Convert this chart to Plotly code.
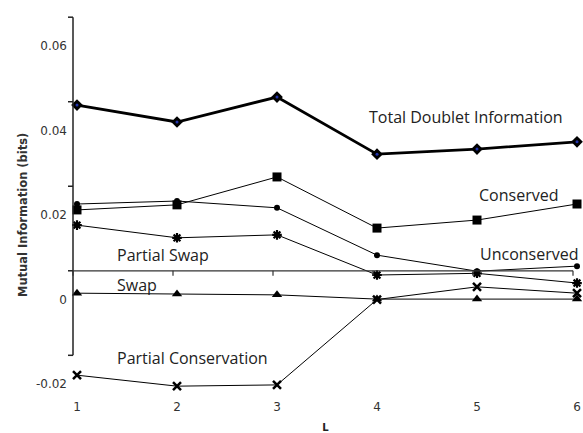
import plotly.graph_objects as go

# Window length L on the x axis
L_values = [1, 2, 3, 4, 5, 6]

# Mutual information (bits) per component
total_doublet = [0.0460, 0.0420, 0.0479, 0.0344, 0.0356, 0.0373]
conserved = [0.0212, 0.0224, 0.0290, 0.0169, 0.0188, 0.0226]
unconserved = [0.0226, 0.0233, 0.0217, 0.0105, 0.0067, 0.0079]
partial_swap = [0.0176, 0.0146, 0.0153, 0.0058, 0.0062, 0.0039]
swap = [0.0015, 0.0013, 0.0011, 0.0001, 0.0001, 0.0001]
partial_conservation = [-0.0179, -0.0205, -0.0202, 0.0000, 0.0030, 0.0015]

# y tick labels
y_tick_vals = [0.06, 0.04, 0.02, 0.0, -0.02]
y_tick_text = ["0.06", "0.04", "0.02", "0", "-0.02"]
# the drawn axis frame sits a little above the labelled values
axis_offset = 0.0068
axis_x = 0.96

FONT = "Open Sans"
TICK_FONT = "DejaVu Sans"

fig = go.Figure()

series = [
    ("Total Doublet Information", total_doublet,
     dict(symbol="diamond", size=9, color="black"), 2.8),
    ("Conserved", conserved,
     dict(symbol="square", size=9, color="black"), 1),
    ("Unconserved", unconserved,
     dict(symbol="circle", size=6, color="black"), 1),
    ("Partial Swap", partial_swap,
     dict(symbol="asterisk-open", size=8, color="black", line=dict(color="black", width=2.2)), 1),
    ("Swap", swap,
     dict(symbol="triangle-up", size=9, color="black"), 1),
    ("Partial Conservation", partial_conservation,
     dict(symbol="x-thin-open", size=8, color="black", line=dict(color="black", width=2.5)), 1),
]

for name, vals, marker, lw in series:
    fig.add_trace(go.Scatter(
        x=L_values, y=vals, name=name, mode="lines+markers",
        line=dict(color="black", width=lw), marker=marker,
        cliponaxis=False, showlegend=False,
    ))

# small navy centre dot inside each diamond
fig.add_trace(go.Scatter(
    x=L_values, y=total_doublet, mode="markers",
    marker=dict(symbol="circle", size=3, color="#2233aa"),
    cliponaxis=False, showlegend=False, hoverinfo="skip",
))

# Series labels placed beside their lines
labels = [
    ("Total Doublet Information", 3.90, 0.0432),
    ("Conserved", 5.00, 0.0247),
    ("Unconserved", 5.01, 0.0108),
    ("Partial Swap", 1.38, 0.0105),
    ("Swap", 1.38, 0.0034),
    ("Partial Conservation", 1.38, -0.0138),
]
for text, lx, ly in labels:
    fig.add_annotation(x=lx, y=ly, text=text, showarrow=False, xanchor="left",
                       yanchor="middle", font=dict(family=FONT, size=16, color="#222"))

# Axis frame: vertical line with outward ticks, horizontal line with downward ticks
frame_vals = [v + axis_offset for v in y_tick_vals]
shapes = [dict(type="line", xref="x", yref="y", x0=axis_x, x1=axis_x,
               y0=min(frame_vals), y1=max(frame_vals),
               line=dict(color="#222", width=1.5))]
for fv in frame_vals:
    shapes.append(dict(type="line", xref="x", yref="y", xsizemode="pixel", xanchor=axis_x,
                       x0=-5, x1=0, y0=fv, y1=fv, line=dict(color="#222", width=1.5)))
x_frame = [v - (1 - axis_x) for v in L_values]
shapes.append(dict(type="line", xref="x", yref="y", x0=x_frame[0], x1=x_frame[-1],
                   y0=axis_offset, y1=axis_offset, line=dict(color="#333", width=1.2)))
for xv in x_frame:
    shapes.append(dict(type="line", xref="x", yref="y", ysizemode="pixel", yanchor=axis_offset,
                       x0=xv, x1=xv, y0=-5, y1=0, line=dict(color="#333", width=1.2)))

fig.add_annotation(text="Mutual Information (bits)", xref="paper", yref="paper",
                   x=-45 / 515, y=0.4716, textangle=-90, showarrow=False,
                   xanchor="center", yanchor="middle",
                   font=dict(family=TICK_FONT, size=11.5, color="#333", weight="bold"))

fig.update_layout(
    width=583, height=433,
    margin=dict(l=68, r=0, t=10, b=35),
    paper_bgcolor="white", plot_bgcolor="white",
    shapes=shapes,
    xaxis=dict(range=[0.91, 6.06], tickvals=L_values, ticktext=[str(v) for v in L_values],
               showline=False, showgrid=False, zeroline=False, ticks="",
               tickfont=dict(family=TICK_FONT, size=12, color="#333"),
               title=dict(text="L", standoff=12,
                          font=dict(family=TICK_FONT, size=10, color="#222", weight="bold"))),
    yaxis=dict(range=[-0.0233, 0.0685], tickvals=y_tick_vals, ticktext=y_tick_text,
               showline=False, showgrid=False, zeroline=False, ticks="",
               tickfont=dict(family=TICK_FONT, size=12, color="#333")),
)

fig.write_html("out.html")
